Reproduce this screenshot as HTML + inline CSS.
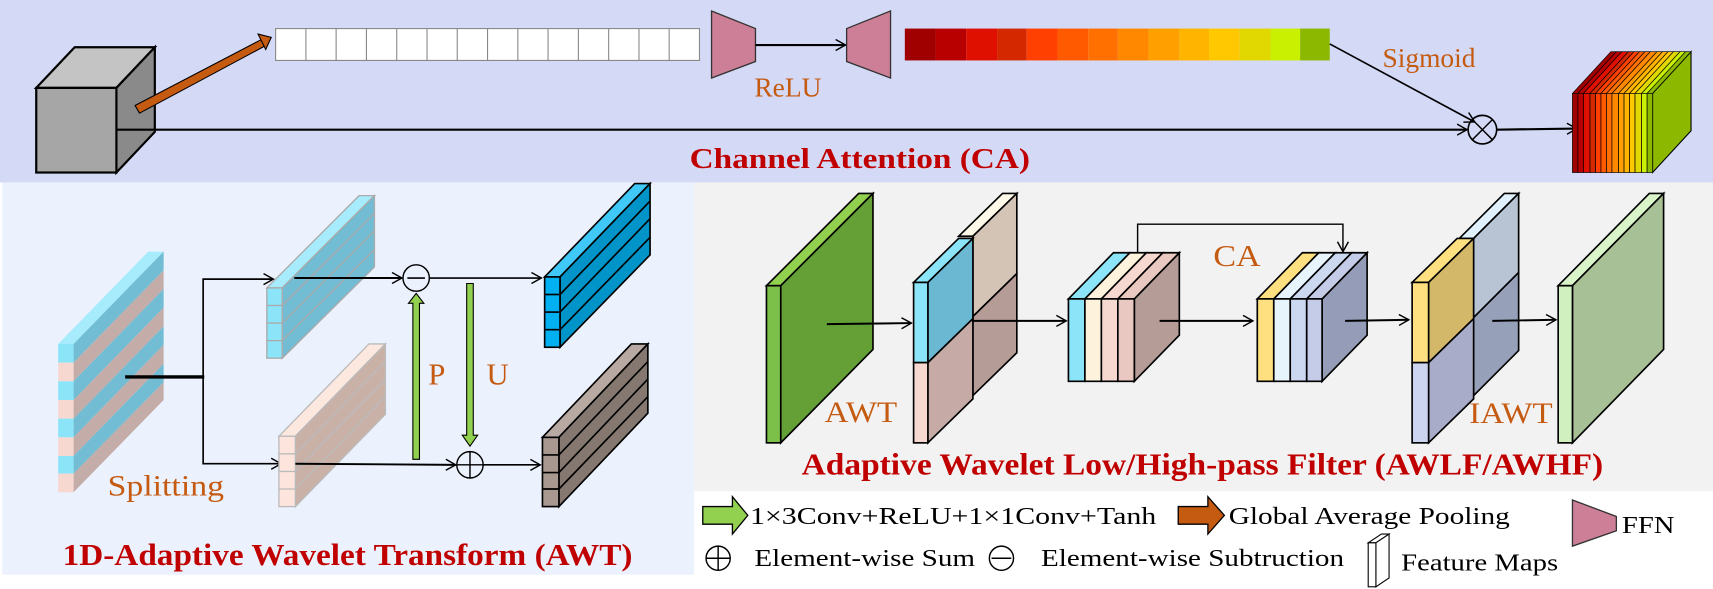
<!DOCTYPE html>
<html><head><meta charset="utf-8"><style>
html,body{margin:0;padding:0;background:#fff;}
svg{display:block;font-family:"Liberation Serif","Times New Roman",Times,serif;}
svg text{font-family:"Liberation Serif","Times New Roman",Times,serif;}
.o{fill:#c55a11;}
.t{fill:#c00000;font-weight:bold;}
.l{fill:#000;font-size:22px;}
</style></head><body>
<svg width="1713" height="589" viewBox="0 0 1560 536" preserveAspectRatio="none" xmlns="http://www.w3.org/2000/svg" font-family="Liberation Serif, Times New Roman, serif">
<defs>
<marker id="a" markerWidth="12" markerHeight="12" refX="10" refY="6" orient="auto" markerUnits="userSpaceOnUse"><path d="M1,1 L10,6 L1,11" fill="none" stroke="#000" stroke-width="1.3"/></marker>
</defs>
<rect x="0" y="0" width="1560" height="166" fill="#d4daf6"/>
<rect x="2" y="166" width="630" height="357" fill="#ebf1fd"/>
<rect x="632" y="166" width="928" height="281" fill="#f2f2f2"/>

<polygon points="33,80 106,80 141,43 68,43" fill="#c4c4c4" stroke="#000" stroke-width="2"/>
<polygon points="106,80 141,43 141,120 106,157" fill="#8a8a8a" stroke="#000" stroke-width="2"/>
<rect x="33" y="80" width="73" height="77" fill="#a6a6a6" stroke="#000" stroke-width="2"/>
<polygon points="123,96 238,36 241,42 127,103" fill="#c55a11" stroke="#000" stroke-width="1"/>
<polygon points="235,31 247,34 242,45" fill="#c55a11" stroke="#000" stroke-width="1"/>
<g stroke="#888" stroke-width="1" fill="#fff">
<rect x="251" y="26" width="386" height="29"/>
<line x1="278.6" y1="26" x2="278.6" y2="55"/><line x1="306.1" y1="26" x2="306.1" y2="55"/><line x1="333.7" y1="26" x2="333.7" y2="55"/><line x1="361.3" y1="26" x2="361.3" y2="55"/><line x1="388.9" y1="26" x2="388.9" y2="55"/><line x1="416.4" y1="26" x2="416.4" y2="55"/><line x1="444" y1="26" x2="444" y2="55"/><line x1="471.6" y1="26" x2="471.6" y2="55"/><line x1="499.1" y1="26" x2="499.1" y2="55"/><line x1="526.7" y1="26" x2="526.7" y2="55"/><line x1="554.3" y1="26" x2="554.3" y2="55"/><line x1="581.9" y1="26" x2="581.9" y2="55"/><line x1="609.4" y1="26" x2="609.4" y2="55"/>
</g>
<polygon points="648,10 688,26 688,56 648,71" fill="#cc7f96" stroke="#333" stroke-width="1.2"/>
<polygon points="771,26 811,10 811,71 771,56" fill="#cc7f96" stroke="#333" stroke-width="1.2"/>
<line x1="688" y1="41" x2="770" y2="41" stroke="#000" stroke-width="2" marker-end="url(#a)"/>
<text x="687" y="88" class="o" font-size="25">ReLU</text>
<g>
<rect x="824" y="26" width="28" height="29" fill="#a00000"/><rect x="852" y="26" width="28" height="29" fill="#b80000"/><rect x="880" y="26" width="28" height="29" fill="#e01000"/><rect x="908" y="26" width="27" height="29" fill="#d42800"/><rect x="935" y="26" width="28" height="29" fill="#ff4000"/><rect x="963" y="26" width="28" height="29" fill="#ff5a00"/><rect x="991" y="26" width="27" height="29" fill="#ff7000"/><rect x="1018" y="26" width="28" height="29" fill="#ff8800"/><rect x="1046" y="26" width="28" height="29" fill="#ffa000"/><rect x="1074" y="26" width="27" height="29" fill="#ffb400"/><rect x="1101" y="26" width="28" height="29" fill="#ffc800"/><rect x="1129" y="26" width="28" height="29" fill="#e0d800"/><rect x="1157" y="26" width="27" height="29" fill="#c8f000"/><rect x="1184" y="26" width="27" height="29" fill="#8cb800"/>
</g>
<text x="1259" y="61" class="o" font-size="25">Sigmoid</text>
<line x1="1211" y1="40" x2="1343" y2="111" stroke="#000" stroke-width="1.5" marker-end="url(#a)"/>
<line x1="106" y1="118" x2="1336" y2="118" stroke="#000" stroke-width="2" marker-end="url(#a)"/>
<circle cx="1350" cy="118" r="13" fill="none" stroke="#000" stroke-width="1.5"/>
<line x1="1341" y1="109" x2="1359" y2="127" stroke="#000" stroke-width="1.3"/><line x1="1359" y1="109" x2="1341" y2="127" stroke="#000" stroke-width="1.3"/>
<line x1="1363" y1="118" x2="1436" y2="117" stroke="#000" stroke-width="2" marker-end="url(#a)"/>
<polygon points="1505,85 1540,47 1540,119 1505,157" fill="#8cb800" stroke="#000" stroke-width="1"/>
<g stroke="#000" stroke-width="0.6">
<polygon points="1432,85 1437,85 1472,47 1467,47" fill="#a00000"/><polygon points="1437,85 1442,85 1477,47 1472,47" fill="#b80000"/><polygon points="1442,85 1448,85 1483,47 1477,47" fill="#e01000"/><polygon points="1448,85 1453,85 1488,47 1483,47" fill="#d42800"/><polygon points="1453,85 1458,85 1493,47 1488,47" fill="#ff4000"/><polygon points="1458,85 1463,85 1498,47 1493,47" fill="#ff5a00"/><polygon points="1463,85 1468,85 1503,47 1498,47" fill="#ff7000"/><polygon points="1468,85 1474,85 1509,47 1503,47" fill="#ff8800"/><polygon points="1474,85 1479,85 1514,47 1509,47" fill="#ffa000"/><polygon points="1479,85 1484,85 1519,47 1514,47" fill="#ffb400"/><polygon points="1484,85 1489,85 1524,47 1519,47" fill="#ffc800"/><polygon points="1489,85 1495,85 1530,47 1524,47" fill="#e0d800"/><polygon points="1495,85 1500,85 1535,47 1530,47" fill="#c8f000"/><polygon points="1500,85 1505,85 1540,47 1535,47" fill="#8cb800"/>
<rect x="1432" y="85" width="5" height="72" fill="#a00000"/><rect x="1437" y="85" width="5" height="72" fill="#b80000"/><rect x="1442" y="85" width="6" height="72" fill="#e01000"/><rect x="1448" y="85" width="5" height="72" fill="#d42800"/><rect x="1453" y="85" width="5" height="72" fill="#ff4000"/><rect x="1458" y="85" width="5" height="72" fill="#ff5a00"/><rect x="1463" y="85" width="5" height="72" fill="#ff7000"/><rect x="1468" y="85" width="6" height="72" fill="#ff8800"/><rect x="1474" y="85" width="5" height="72" fill="#ffa000"/><rect x="1479" y="85" width="5" height="72" fill="#ffb400"/><rect x="1484" y="85" width="5" height="72" fill="#ffc800"/><rect x="1489" y="85" width="6" height="72" fill="#e0d800"/><rect x="1495" y="85" width="5" height="72" fill="#c8f000"/><rect x="1500" y="85" width="5" height="72" fill="#8cb800"/>
</g>
<text x="628" y="153" class="t" font-size="26" textLength="310" lengthAdjust="spacingAndGlyphs">Channel Attention (CA)</text>

<polygon points="53,313 67,313 149,229 135,229" fill="#a6ecfc"/>
<g>
<polygon points="67,313 149,229 149,246 67,330" fill="#72bcd4"/><polygon points="67,330 149,246 149,263 67,347" fill="#c4aca8"/><polygon points="67,347 149,263 149,280 67,364" fill="#72bcd4"/><polygon points="67,364 149,280 149,297 67,381" fill="#c4aca8"/><polygon points="67,381 149,297 149,314 67,398" fill="#72bcd4"/><polygon points="67,398 149,314 149,331 67,415" fill="#c4aca8"/><polygon points="67,415 149,331 149,348 67,431" fill="#72bcd4"/><polygon points="67,431 149,348 149,364 67,448" fill="#c4aca8"/>
<rect x="53" y="313" width="14" height="17" fill="#8ce4f8"/><rect x="53" y="330" width="14" height="17" fill="#f6d8d0"/><rect x="53" y="347" width="14" height="17" fill="#8ce4f8"/><rect x="53" y="364" width="14" height="17" fill="#f6d8d0"/><rect x="53" y="381" width="14" height="17" fill="#8ce4f8"/><rect x="53" y="398" width="14" height="17" fill="#f6d8d0"/><rect x="53" y="415" width="14" height="16" fill="#8ce4f8"/><rect x="53" y="431" width="14" height="17" fill="#f6d8d0"/>
</g>
<line x1="114" y1="343" x2="186" y2="343" stroke="#000" stroke-width="3"/>
<polyline points="185,343 185,254 249,254" fill="none" stroke="#000" stroke-width="1.5" marker-end="url(#a)"/>
<polyline points="185,343 185,422 256,422" fill="none" stroke="#000" stroke-width="1.5" marker-end="url(#a)"/>
<g stroke="#aaa" stroke-width="1.2">
<polygon points="243,262 257,262 341,178 327,178" fill="#a6ecfc"/>
<polygon points="257,262 341,178 341,243 257,326" fill="#72bcd4"/>
<line x1="257" y1="278" x2="341" y2="194"/><line x1="257" y1="294" x2="341" y2="210"/><line x1="257" y1="310" x2="341" y2="227"/>
<rect x="243" y="262" width="14" height="64" fill="#8ce4f8"/>
<line x1="243" y1="278" x2="257" y2="278"/><line x1="243" y1="294" x2="257" y2="294"/><line x1="243" y1="310" x2="257" y2="310"/>
</g>
<g stroke="#bbb" stroke-width="1.2">
<polygon points="254,397 269,397 351,313 336,313" fill="#fde8e0"/>
<polygon points="269,397 351,313 351,377 269,461" fill="#c9b1a8"/>
<line x1="269" y1="413" x2="351" y2="329"/><line x1="269" y1="429" x2="351" y2="345"/><line x1="269" y1="445" x2="351" y2="361"/>
<rect x="254" y="397" width="15" height="64" fill="#fde4dc"/>
<line x1="254" y1="413" x2="269" y2="413"/><line x1="254" y1="429" x2="269" y2="429"/><line x1="254" y1="445" x2="269" y2="445"/>
</g>
<line x1="268" y1="253" x2="366" y2="253" stroke="#000" stroke-width="1.8" marker-end="url(#a)"/>
<circle cx="379" cy="253" r="12" fill="none" stroke="#000" stroke-width="1.3"/>
<line x1="371" y1="253" x2="387" y2="253" stroke="#000" stroke-width="1.5"/>
<line x1="391" y1="253" x2="493" y2="253" stroke="#000" stroke-width="1.5" marker-end="url(#a)"/>
<line x1="269" y1="422" x2="415" y2="423" stroke="#000" stroke-width="1.8" marker-end="url(#a)"/>
<circle cx="428" cy="423" r="12" fill="none" stroke="#000" stroke-width="1.3"/>
<line x1="416" y1="423" x2="440" y2="423" stroke="#000" stroke-width="1.3"/><line x1="428" y1="411" x2="428" y2="435" stroke="#000" stroke-width="1.3"/>
<line x1="440" y1="423" x2="492" y2="423" stroke="#000" stroke-width="1.5" marker-end="url(#a)"/>
<polygon points="376,418 382,418 382,276 386,276 379,267 372,276 376,276" fill="#92d050" stroke="#000" stroke-width="1"/>
<polygon points="425,258 431,258 431,396 435,396 428,406 421,396 425,396" fill="#92d050" stroke="#000" stroke-width="1"/>
<text x="390" y="350" class="o" font-size="28">P</text>
<text x="443" y="350" class="o" font-size="28">U</text>
<g stroke="#000" stroke-width="1.5">
<polygon points="496,252 510,252 592,167 578,167" fill="#40c8f8"/>
<polygon points="510,252 592,167 592,232 510,316" fill="#0094c8"/>
<line x1="510" y1="268" x2="592" y2="183"/><line x1="510" y1="284" x2="592" y2="199"/><line x1="510" y1="300" x2="592" y2="216"/>
<rect x="496" y="252" width="14" height="64" fill="#00b0f0"/>
<line x1="496" y1="268" x2="510" y2="268"/><line x1="496" y1="284" x2="510" y2="284"/><line x1="496" y1="300" x2="510" y2="300"/>
</g>
<g stroke="#000" stroke-width="1.5">
<polygon points="494,398 509,398 590,313 575,313" fill="#b8aaa2"/>
<polygon points="509,398 590,313 590,376 509,461" fill="#857870"/>
<line x1="509" y1="414" x2="590" y2="329"/><line x1="509" y1="430" x2="590" y2="345"/><line x1="509" y1="445" x2="590" y2="361"/>
<rect x="494" y="398" width="15" height="63" fill="#a89890"/>
<line x1="494" y1="414" x2="509" y2="414"/><line x1="494" y1="430" x2="509" y2="430"/><line x1="494" y1="445" x2="509" y2="445"/>
</g>
<text x="98" y="451" class="o" font-size="27" textLength="106" lengthAdjust="spacingAndGlyphs">Splitting</text>
<text x="57" y="514" class="t" font-size="28" textLength="519" lengthAdjust="spacingAndGlyphs">1D-Adaptive Wavelet Transform (AWT)</text>

<g stroke="#000" stroke-width="1.5">
<polygon points="698,260 711,260 795,176 782,176" fill="#92d050"/>
<polygon points="711,260 795,176 795,318 711,403" fill="#64a036"/>
<rect x="698" y="260" width="13" height="143" fill="#7cc04a"/>
<polygon points="873,215 886,215 926,176 913,176" fill="#fdf8e8"/>
<polygon points="886,215 926,176 926,249 886,288" fill="#d4c4b6"/>
<polygon points="886,288 926,249 926,321 886,360" fill="#b59c96"/>
<polygon points="832,257 845,257 886,217 873,217" fill="#8ce4f8"/>
<polygon points="845,257 886,217 886,290 845,330" fill="#6bb8d3"/>
<polygon points="845,330 886,290 886,363 845,403" fill="#c5aaa5"/>
<rect x="832" y="257" width="13" height="73" fill="#8ce4f8"/>
<rect x="832" y="330" width="13" height="73" fill="#f6d8d0"/>
<polygon points="1033,272 1074,230 1074,305 1033,347" fill="#b59c96"/>
<polygon points="973,272 988,272 1029,230 1014,230" fill="#8ce4f8"/><polygon points="988,272 1003,272 1044,230 1029,230" fill="#fdf2dc"/><polygon points="1003,272 1018,272 1059,230 1044,230" fill="#f6d8d0"/><polygon points="1018,272 1033,272 1074,230 1059,230" fill="#e8c8c0"/>
<rect x="973" y="272" width="15" height="75" fill="#8ce4f8"/><rect x="988" y="272" width="15" height="75" fill="#fdf2dc"/><rect x="1003" y="272" width="15" height="75" fill="#f6d8d0"/><rect x="1018" y="272" width="15" height="75" fill="#e8c8c0"/>
<polygon points="1204,272 1245,230 1245,305 1204,347" fill="#949cb8"/>
<polygon points="1145,272 1160,272 1201,230 1186,230" fill="#ffe080"/><polygon points="1160,272 1175,272 1216,230 1201,230" fill="#e8f4fc"/><polygon points="1175,272 1190,272 1231,230 1216,230" fill="#ccd8f0"/><polygon points="1190,272 1204,272 1245,230 1231,230" fill="#c4cce8"/>
<rect x="1145" y="272" width="15" height="75" fill="#ffe080"/><rect x="1160" y="272" width="15" height="75" fill="#e8f4fc"/><rect x="1175" y="272" width="15" height="75" fill="#ccd8f0"/><rect x="1190" y="272" width="14" height="75" fill="#c4cce8"/>
<polygon points="1329,217 1342,217 1383,176 1370,176" fill="#e0f0fc"/>
<polygon points="1342,217 1383,176 1383,248 1342,289" fill="#b8c4d4"/>
<polygon points="1342,289 1383,248 1383,319 1342,360" fill="#96a0b8"/>
<polygon points="1286,257 1301,257 1342,217 1327,217" fill="#ffe080"/>
<polygon points="1301,257 1342,217 1342,290 1301,330" fill="#d4b86a"/>
<polygon points="1301,330 1342,290 1342,363 1301,403" fill="#a8acc8"/>
<rect x="1286" y="257" width="15" height="73" fill="#ffe080"/>
<rect x="1286" y="330" width="15" height="73" fill="#ccd4f0"/>
<polygon points="1419,260 1432,260 1515,176 1502,176" fill="#d8f4c8"/>
<polygon points="1432,260 1515,176 1515,318 1432,403" fill="#a8c096"/>
<rect x="1419" y="260" width="13" height="143" fill="#d0f0c0"/>
</g>
<g stroke="#000" stroke-width="1.8" fill="none">
<line x1="753" y1="295" x2="830" y2="294" marker-end="url(#a)"/>
<line x1="885" y1="292" x2="971" y2="292" marker-end="url(#a)"/>
<line x1="1056" y1="292" x2="1141" y2="292" marker-end="url(#a)"/>
<line x1="1225" y1="292" x2="1283" y2="291" marker-end="url(#a)"/>
<line x1="1359" y1="292" x2="1417" y2="291" marker-end="url(#a)"/>
<polyline points="1036,230 1036,204 1223,204 1223,229" stroke-width="1.3" marker-end="url(#a)"/>
</g>
<text x="1105" y="242" class="o" font-size="28" textLength="43" lengthAdjust="spacingAndGlyphs">CA</text>
<text x="751" y="384" class="o" font-size="27" textLength="66" lengthAdjust="spacingAndGlyphs">AWT</text>
<text x="1338" y="385" class="o" font-size="27" textLength="76" lengthAdjust="spacingAndGlyphs">IAWT</text>
<text x="730" y="432" class="t" font-size="28" textLength="730" lengthAdjust="spacingAndGlyphs">Adaptive Wavelet Low/High-pass Filter (AWLF/AWHF)</text>

<polygon points="640,461 667,461 667,452 681,469 667,486 667,477 640,477" fill="#92d050" stroke="#000" stroke-width="1.2"/>
<text x="683" y="477" class="l" textLength="370" lengthAdjust="spacingAndGlyphs">1×3Conv+ReLU+1×1Conv+Tanh</text>
<polygon points="1073,461 1100,461 1100,452 1115,469 1100,486 1100,477 1073,477" fill="#c55a11" stroke="#000" stroke-width="1.2"/>
<text x="1119" y="477" class="l" textLength="256" lengthAdjust="spacingAndGlyphs">Global Average Pooling</text>
<polygon points="1432,455 1472,470 1472,483 1432,497" fill="#cc7f96" stroke="#333" stroke-width="1.2"/>
<text x="1477" y="485" class="l" font-size="23" textLength="48" lengthAdjust="spacingAndGlyphs">FFN</text>
<circle cx="654" cy="508" r="11" fill="none" stroke="#000" stroke-width="1.3"/>
<line x1="643" y1="508" x2="665" y2="508" stroke="#000" stroke-width="1.3"/><line x1="654" y1="497" x2="654" y2="519" stroke="#000" stroke-width="1.3"/>
<text x="687" y="515" class="l" textLength="201" lengthAdjust="spacingAndGlyphs">Element-wise Sum</text>
<circle cx="912" cy="508" r="11" fill="none" stroke="#000" stroke-width="1.3"/>
<line x1="903" y1="508" x2="921" y2="508" stroke="#000" stroke-width="1.3"/>
<text x="948" y="515" class="l" textLength="276" lengthAdjust="spacingAndGlyphs">Element-wise Subtruction</text>
<polygon points="1246,494 1253,494 1265,486 1258,486" fill="#fff" stroke="#000" stroke-width="1"/>
<polygon points="1253,494 1265,486 1265,526 1253,534" fill="#fff" stroke="#000" stroke-width="1"/>
<rect x="1246" y="494" width="7" height="40" fill="#fff" stroke="#000" stroke-width="1"/>
<text x="1276" y="519" class="l" textLength="143" lengthAdjust="spacingAndGlyphs">Feature Maps</text>
</svg>
</body></html>
